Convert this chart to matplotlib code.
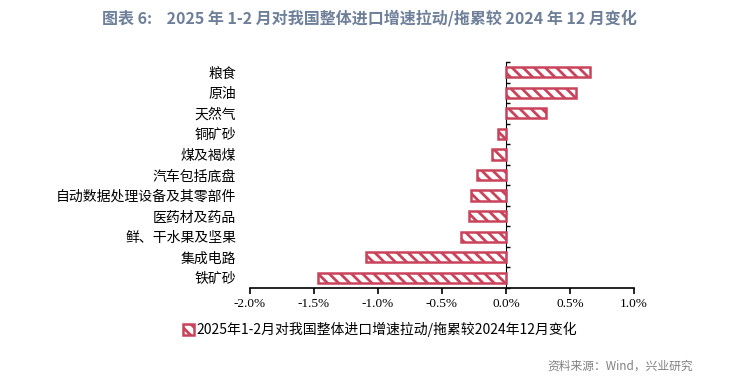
import matplotlib
matplotlib.use("Agg")
import matplotlib.pyplot as plt
from matplotlib.patches import Patch

plt.rcParams['font.family'] = ['Noto Sans CJK SC', 'DejaVu Sans']
plt.rcParams['hatch.linewidth'] = 2.0

categories = ["粮食", "原油", "天然气", "铜矿砂", "煤及褐煤", "汽车包括底盘",
              "自动数据处理设备及其零部件", "医药材及药品", "鲜、干水果及坚果",
              "集成电路", "铁矿砂"]
values = [0.66, 0.55, 0.31, -0.06, -0.11, -0.23, -0.27, -0.29, -0.35, -1.09, -1.47]
xticks = [-2.0, -1.5, -1.0, -0.5, 0.0, 0.5, 1.0]
xticklabels = ["-2.0%", "-1.5%", "-1.0%", "-0.5%", "0.0%", "0.5%", "1.0%"]
series_name = "2025年1-2月对我国整体进口增速拉动/拖累较2024年12月变化"
title = "图表 6:    2025 年 1-2 月对我国整体进口增速拉动/拖累较 2024 年 12 月变化"
source = "资料来源：Wind，兴业研究"

red = "#C9435B"

fig = plt.figure(figsize=(7.34, 3.84), dpi=100)
ax = fig.add_axes([250/734, 1-288/384, 384/734, 226/384])

ypos = list(range(len(categories)))
ax.barh(ypos, values, height=0.5, color="white", edgecolor=red, hatch="\\\\\\",
        linewidth=1.8, zorder=2)

ax.set_xlim(-2.0, 1.0)
ax.set_ylim(len(categories) - 0.5, -0.5)
ax.set_xticks(xticks)
ax.set_xticklabels(xticklabels, family=['Liberation Serif'], fontsize=9.5)
ax.tick_params(axis='x', direction='out', length=4, width=1.2, pad=3)

ax.set_yticks(ypos)
ax.set_yticklabels(categories, fontsize=10)
ax.tick_params(axis='y', length=0, pad=10)

for s in ['top', 'right', 'left']:
    ax.spines[s].set_visible(False)
ax.spines['bottom'].set_linewidth(1.2)

# zero axis with boundary ticks
zero_frac = (0 - xticks[0]) / (xticks[-1] - xticks[0])
sec = ax.secondary_yaxis(zero_frac)
sec.set_yticks([i + 0.5 for i in range(-1, len(categories))])
sec.set_yticklabels([])
sec.tick_params(direction='out', length=3, width=1.0)
sec.spines['left'].set_linewidth(1.4)

fig.text(0.503, 0.953, title, ha='center', va='center', fontsize=11.5,
         fontweight='bold', color='#6E7F99')

handle = Patch(facecolor="white", edgecolor=red, hatch="\\\\\\", linewidth=1.8)
leg = fig.legend([handle], [series_name], loc='center', bbox_to_anchor=(0.518, 0.142),
                 frameon=False, fontsize=10, handlelength=0.8, handleheight=0.8,
                 handletextpad=0.2)

fig.text(0.944, 0.047, source, ha='right', va='center', fontsize=8.5, color='#808080')

fig.savefig("out.png", dpi=100)
